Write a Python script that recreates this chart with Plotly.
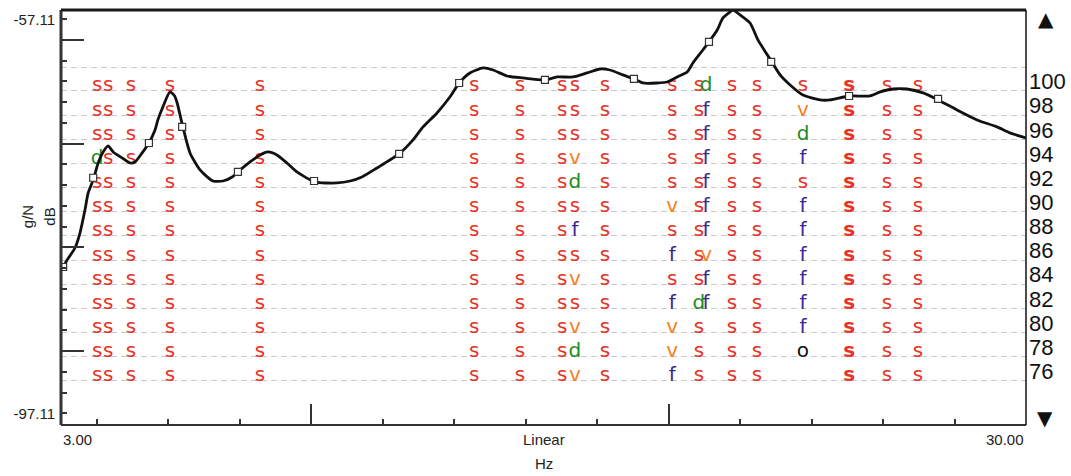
import plotly.graph_objects as go

# Frequency response curve: frequency (Hz) and level (dB)
freq_hz = [3.03, 3.17, 3.39, 3.53, 3.67, 3.76, 3.90, 4.04, 4.18, 4.32, 4.46, 4.71, 4.93, 5.07,
           5.27, 5.46, 5.63, 5.71, 5.85, 6.05, 6.18, 6.25, 6.41, 6.61, 6.89, 7.25, 7.53, 7.79,
           7.95, 8.29, 8.57, 8.79, 9.04, 9.32, 9.60, 10.11, 10.72, 11.09, 11.42, 11.84, 12.46,
           12.85, 13.13, 13.52, 13.88, 14.14, 14.44, 14.81, 15.09, 15.48, 15.93, 16.54, 16.88,
           17.33, 17.72, 18.08, 18.36, 18.72, 19.03, 19.28, 19.68, 19.96, 20.24, 20.52, 20.68,
           20.96, 21.13, 21.36, 21.52, 21.72, 21.80, 22.00, 22.28, 22.50, 22.89, 23.12, 23.40,
           23.76, 24.24, 24.52, 25.05, 25.64, 25.92, 26.28, 26.67, 27.12, 27.54, 28.07, 28.63,
           29.19, 29.55, 30.00]
level_db = [-82.46, -81.55, -80.33, -78.81, -76.47, -74.74, -73.42, -71.70, -70.58, -69.97,
            -70.58, -71.19, -71.70, -71.60, -70.68, -69.67, -68.35, -67.33, -66.01, -64.49,
            -64.90, -65.61, -68.04, -70.68, -72.41, -73.53, -73.53, -73.12, -72.61, -71.60,
            -70.89, -70.58, -70.89, -71.70, -72.61, -73.63, -73.73, -73.53, -73.12, -72.21,
            -70.78, -69.36, -68.04, -66.62, -65.00, -63.58, -62.56, -62.05, -62.26, -62.87,
            -63.07, -63.27, -62.97, -62.97, -62.56, -62.16, -62.26, -62.76, -63.17, -63.58,
            -63.58, -63.48, -62.97, -62.46, -61.55, -60.23, -59.41, -58.20, -56.98, -56.37,
            -56.15, -56.67, -57.49, -59.21, -61.44, -62.76, -63.78, -64.80, -65.30, -65.30,
            -64.90, -64.90, -64.49, -64.19, -64.19, -64.59, -65.30, -66.32, -67.33, -68.04,
            -68.65, -69.16]

# Sample points highlighted on the curve
mark_hz = [3.06, 3.90, 5.46, 6.39, 7.95, 10.08, 12.46, 14.14, 16.54, 19.03, 21.13, 22.87, 25.05, 27.54]
mark_db = [-82.26, -73.20, -69.67, -68.04, -72.61, -73.53, -70.78, -63.58, -63.27, -63.17,
           -59.41, -61.44, -64.90, -65.20]

# Left scale
db_top = -57.11
db_bottom = -97.11
db_labels = ["-57.11", "-97.11"]

# Code grid: one row per level, one column per frequency
row_levels = [100, 98, 96, 94, 92, 90, 88, 86, 84, 82, 80, 78, 76]
col_hz = [4.01, 4.32, 4.96, 6.05, 8.57, 14.56, 15.84, 17.02, 17.38, 18.22, 20.10,
          20.85, 21.05, 21.77, 22.47, 23.76, 25.05, 26.11, 26.98]
col_codes = [
    "sssdsssssssss",
    "sssssssssssss",
    "sssssssssssss",
    "sssssssssssss",
    "sssssssssssss",
    "sssssssssssss",
    "sssssssssssss",
    "sssssssssssss",
    "sssvdsfsvsvdv",
    "sssssssssssss",
    "sssssvsfsfvvf",
    "sssssssssdsss",
    "dffffffvff...",
    "sssssssssssss",
    "sssssssssssss",
    "svdfsffffffo.",
    "sssssssssssss",
    "sssssssssssss",
    "sssssssssssss",
]
col_bold = [False] * 16 + [True, False, False]

code_colors = {"s": "#e8332a", "v": "#f5821f", "d": "#1e8c1e", "f": "#3b2a8e", "o": "#111111"}

x_major = [10, 20]
x_minor = [4, 6, 8, 12, 14, 16, 18, 22, 24, 26, 28]

fig = go.Figure()

# Code letters, grouped by code so each group has its colour
for code, color in code_colors.items():
    xs, ys, texts = [], [], []
    for cx, codes, bold in zip(col_hz, col_codes, col_bold):
        for lvl, ch in zip(row_levels, codes):
            if ch == code:
                xs.append(cx)
                ys.append(lvl)
                texts.append(f"<b>{ch}</b>" if bold else ch)
    fig.add_trace(go.Scatter(
        x=xs, y=ys, text=texts, mode="text", yaxis="y",
        textposition="middle center",
        textfont=dict(family="DejaVu Sans", size=20, color=color),
        hoverinfo="skip",
    ))

# Response curve
fig.add_trace(go.Scatter(
    x=freq_hz, y=level_db, mode="lines", yaxis="y2",
    line=dict(color="#111111", width=2.8, shape="spline", smoothing=0.6),
    hoverinfo="skip",
))

# Sample markers
fig.add_trace(go.Scatter(
    x=mark_hz, y=mark_db, mode="markers", yaxis="y3",
    marker=dict(symbol="square", size=7, color="white", line=dict(color="#333333", width=1.2)),
    hoverinfo="skip",
))

db_step = (db_top - db_bottom) / 19
db_ticks = [db_top - k * db_step for k in range(20)]
db_long = [db_ticks[k] for k in (1, 6, 11, 16)]
db_range = [db_bottom - 1.19, db_top + 0.94]

# dashed separators between code rows
grid_vals = [lvl - 0.37 for lvl in row_levels] + [row_levels[0] + 1.61]

fig.update_layout(
    width=1071, height=476,
    margin=dict(l=61, r=45, t=10, b=51),
    paper_bgcolor="white", plot_bgcolor="white",
    showlegend=False,
    xaxis=dict(
        range=[3, 30], showgrid=False, zeroline=False, showline=False, automargin=False,
        ticks="inside", tickmode="array", tickvals=x_major, ticklen=21,
        tickwidth=1.5, tickcolor="#333333", showticklabels=False,
        minor=dict(ticks="inside", tickmode="array", tickvals=x_minor, ticklen=6,
                   tickwidth=1.5, tickcolor="#333333", showgrid=False),
    ),
    yaxis=dict(
        range=[71.98, 106.33], side="right", showline=False, zeroline=False,
        automargin=False, showgrid=False, ticks="", tickmode="array", tickvals=row_levels,
        ticktext=[str(v) for v in row_levels],
        tickfont=dict(family="Liberation Sans, Arial", size=22, color="#111111"),
        ticklabelstandoff=2, ticklabelshift=-5,
        minor=dict(tickmode="array", tickvals=grid_vals, showgrid=True,
                   gridcolor="#c9c9c9", gridwidth=1.2, griddash="6px,4px", ticks=""),
    ),
    yaxis2=dict(
        range=db_range, overlaying="y", side="left", showgrid=False, zeroline=False,
        automargin=False,
        showline=False, ticks="inside", tickmode="array", tickvals=[db_top, db_bottom],
        ticktext=db_labels, ticklen=6, tickwidth=1.5, tickcolor="#333333",
        tickfont=dict(family="Liberation Sans, Arial", size=15, color="#222222"),
        ticklabelstandoff=5,
        minor=dict(ticks="inside", tickmode="array", tickvals=db_ticks, ticklen=6,
                   tickwidth=1.5, tickcolor="#333333", showgrid=False),
    ),
    yaxis3=dict(
        range=db_range, overlaying="y", side="left", showgrid=False, zeroline=False,
        automargin=False,
        showline=False, ticks="inside", tickmode="array", tickvals=db_long, ticklen=23,
        tickwidth=1.5, tickcolor="#333333", showticklabels=False,
    ),
)

# Plot frame
frame = [
    dict(x0=0, x1=0, y0=0, y1=1, w=3, c="#333333"),
    dict(x0=0, x1=1, y0=1, y1=1, w=3, c="#1a1a1a"),
    dict(x0=0, x1=1, y0=0, y1=0, w=2, c="#333333"),
    dict(x0=1, x1=1, y0=0, y1=1, w=1.5, c="#111111"),
]
for f in frame:
    fig.add_shape(type="line", xref="paper", yref="paper", x0=f["x0"], x1=f["x1"],
                  y0=f["y0"], y1=f["y1"], line=dict(color=f["c"], width=f["w"]))

axis_font = dict(family="Liberation Sans, Arial", size=15, color="#222222")
fig.add_annotation(x=3, y=-0.036, xref="x", yref="paper", text="3.00", showarrow=False,
                   xanchor="left", yanchor="middle", font=axis_font)
fig.add_annotation(x=30, y=-0.036, xref="x", yref="paper", text="30.00", showarrow=False,
                   xanchor="right", yanchor="middle", font=axis_font)
fig.add_annotation(x=0.5, y=-0.034, xref="paper", yref="paper", text="Linear", showarrow=False,
                   xanchor="center", yanchor="middle", font=axis_font)
fig.add_annotation(x=0.5, y=-0.092, xref="paper", yref="paper", text="Hz", showarrow=False,
                   xanchor="center", yanchor="middle", font=axis_font)
fig.add_annotation(x=-0.0347, y=0.502, xref="paper", yref="paper", text="g/N", showarrow=False,
                   textangle=-90, xanchor="center", yanchor="middle", font=axis_font)
fig.add_annotation(x=-0.0114, y=0.502, xref="paper", yref="paper", text="dB", showarrow=False,
                   textangle=-90, xanchor="center", yanchor="middle", font=axis_font)

# Scroll arrows
arrow_font = dict(family="DejaVu Sans", size=20, color="#111111")
fig.add_annotation(x=1.0207, y=0.978, xref="paper", yref="paper", text="▲", showarrow=False,
                   xanchor="center", yanchor="middle", font=arrow_font)
fig.add_annotation(x=1.0197, y=0.017, xref="paper", yref="paper", text="▼", showarrow=False,
                   xanchor="center", yanchor="middle", font=arrow_font)

fig.write_html("out.html")
